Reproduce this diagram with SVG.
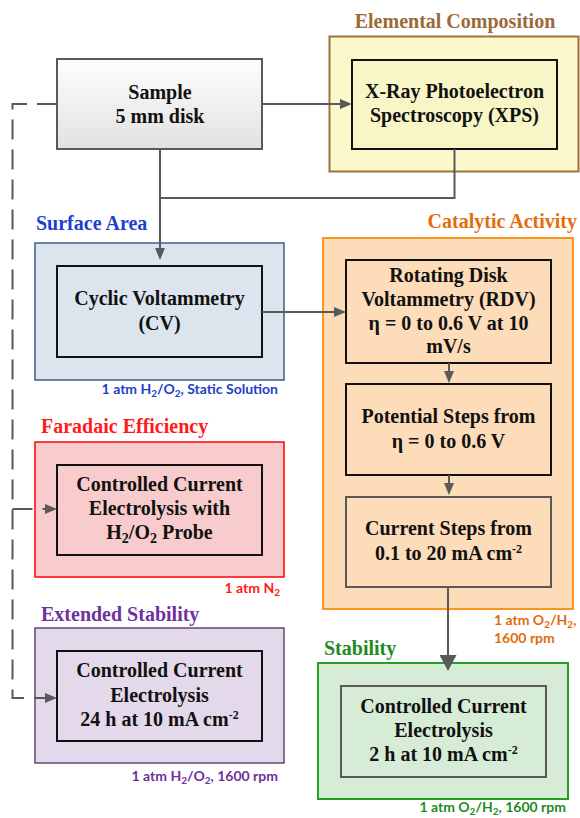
<svg xmlns="http://www.w3.org/2000/svg" width="580" height="818" viewBox="0 0 580 818">
<defs>
<style>
.t{font-family:"Liberation Serif","Times New Roman",serif;font-weight:bold;font-size:20px;fill:#111;text-anchor:middle}
.lbl{font-family:"Liberation Serif","Times New Roman",serif;font-weight:bold;font-size:20px}
.sm{font-family:Lato,"Liberation Sans",Arial,sans-serif;font-weight:bold;font-size:14px}
.inner{stroke:#111;stroke-width:2}
.conn{stroke:#595959;stroke-width:2;fill:none}
.dash{stroke-dasharray:20 10}
</style>
<linearGradient id="gs" x1="0" y1="0" x2="0" y2="1">
<stop offset="0" stop-color="#fdfdfd"/>
<stop offset="1" stop-color="#e2e2e2"/>
</linearGradient>
<marker id="ah" viewBox="0 0 12 10" refX="10" refY="5" markerWidth="12" markerHeight="10" markerUnits="userSpaceOnUse" orient="auto">
<path d="M0,0 L12,5 L0,10 z" fill="#595959"/>
</marker>
<marker id="ahb" viewBox="0 0 16 17" refX="13" refY="8.5" markerWidth="16" markerHeight="17" markerUnits="userSpaceOnUse" orient="auto">
<path d="M0,0 L16,8.5 L0,17 z" fill="#595959"/>
</marker>
</defs>
<rect width="580" height="818" fill="#ffffff"/>

<g id="elemental">
<text class="lbl" x="455" y="28" text-anchor="middle" fill="#9b6a36">Elemental Composition</text>
<rect x="329.5" y="36.5" width="249" height="135" fill="#fbf8cc" stroke="#a0703c" stroke-width="2"/>
<rect class="inner" x="352" y="60" width="205" height="89" fill="#f8f6c6"/>
<text class="t" x="454.5" y="98">X-Ray Photoelectron</text>
<text class="t" x="454.5" y="122">Spectroscopy (XPS)</text>
</g>

<g id="sample">
<rect x="57" y="59" width="205" height="90" fill="url(#gs)" stroke="#595959" stroke-width="2"/>
<text class="t" x="160" y="99">Sample</text>
<text class="t" x="160" y="123">5 mm disk</text>
</g>

<g id="surface">
<text class="lbl" x="36" y="230" fill="#1f3fcf">Surface Area</text>
<rect x="35" y="243" width="249" height="137" fill="#dce5ee" stroke="#3a5f8a" stroke-width="1.5"/>
<rect class="inner" x="57" y="266" width="205" height="91" fill="#dce5ee"/>
<text class="t" x="159.5" y="305">Cyclic Voltammetry</text>
<text class="t" x="159.5" y="330">(CV)</text>
<text class="sm" x="278" y="394" text-anchor="end" fill="#2040c8">1 atm H<tspan baseline-shift="-3" font-size="10">2</tspan>/O<tspan baseline-shift="-3" font-size="10">2</tspan>, Static Solution</text>
</g>

<g id="catalytic">
<text class="lbl" x="577" y="228" text-anchor="end" fill="#e46c0a">Catalytic Activity</text>
<rect x="323" y="238" width="250" height="371" fill="#fddcb9" stroke="#f7961e" stroke-width="2"/>
<rect class="inner" x="346" y="260" width="205" height="103" fill="#fddcb9"/>
<text class="t" x="448.5" y="282">Rotating Disk</text>
<text class="t" x="448.5" y="306">Voltammetry (RDV)</text>
<text class="t" x="448.5" y="330">η = 0 to 0.6 V at 10</text>
<text class="t" x="448.5" y="353">mV/s</text>
<rect class="inner" x="346" y="384" width="205" height="91" fill="#fddcb9"/>
<text class="t" x="448.5" y="423">Potential Steps from</text>
<text class="t" x="448.5" y="448">η = 0 to 0.6 V</text>
<rect x="346" y="497" width="205" height="90" fill="#fddcb9" stroke="#595959" stroke-width="2"/>
<text class="t" x="448.5" y="535">Current Steps from</text>
<text class="t" x="448.5" y="560">0.1 to 20 mA cm<tspan baseline-shift="super" font-size="12">-2</tspan></text>
<text class="sm" x="494" y="625" fill="#e26b0a">1 atm O<tspan baseline-shift="-3" font-size="10">2</tspan>/H<tspan baseline-shift="-3" font-size="10">2</tspan>,</text>
<text class="sm" x="494" y="643" fill="#e26b0a">1600 rpm</text>
</g>

<g id="faradaic">
<text class="lbl" x="41" y="433" fill="#ff1a1a">Faradaic Efficiency</text>
<rect x="35" y="442" width="249" height="135" fill="#f8cccc" stroke="#ff0000" stroke-width="1.5"/>
<rect class="inner" x="57" y="465" width="205" height="90" fill="#f8cccc"/>
<text class="t" x="159.5" y="491">Controlled Current</text>
<text class="t" x="159.5" y="515">Electrolysis with</text>
<text class="t" x="159.5" y="539">H<tspan baseline-shift="-4" font-size="14">2</tspan>/O<tspan baseline-shift="-4" font-size="14">2</tspan> Probe</text>
<text class="sm" x="280" y="593" text-anchor="end" fill="#ff1a1a">1 atm N<tspan baseline-shift="-3" font-size="10">2</tspan></text>
</g>

<g id="extended">
<text class="lbl" x="41" y="621" fill="#7030a0">Extended Stability</text>
<rect x="35" y="628" width="249" height="135" fill="#e4d9ea" stroke="#5f4a78" stroke-width="1.5"/>
<rect class="inner" x="57" y="651" width="205" height="90" fill="#e4d9ea"/>
<text class="t" x="159.5" y="677">Controlled Current</text>
<text class="t" x="159.5" y="702">Electrolysis</text>
<text class="t" x="159.5" y="726">24 h at 10 mA cm<tspan baseline-shift="super" font-size="12">-2</tspan></text>
<text class="sm" x="278" y="781" text-anchor="end" fill="#7030a0">1 atm H<tspan baseline-shift="-3" font-size="10">2</tspan>/O<tspan baseline-shift="-3" font-size="10">2</tspan>, 1600 rpm</text>
</g>

<g id="stability">
<text class="lbl" x="324" y="655" fill="#1f8a1f">Stability</text>
<rect x="318" y="663" width="250" height="136" fill="#d6ecd6" stroke="#22a022" stroke-width="2"/>
<rect x="341" y="686" width="205" height="91" fill="#d6ecd6" stroke="#595959" stroke-width="2"/>
<text class="t" x="443.5" y="713">Controlled Current</text>
<text class="t" x="443.5" y="737">Electrolysis</text>
<text class="t" x="443.5" y="761">2 h at 10 mA cm<tspan baseline-shift="super" font-size="12">-2</tspan></text>
<text class="sm" x="566" y="812" text-anchor="end" fill="#1f8a1f">1 atm O<tspan baseline-shift="-3" font-size="10">2</tspan>/H<tspan baseline-shift="-3" font-size="10">2</tspan>, 1600 rpm</text>
</g>

<g id="connectors">
<path class="conn" d="M262,104 H350" marker-end="url(#ah)"/>
<path class="conn" d="M160,149 V258" marker-end="url(#ah)"/>
<path class="conn" d="M454.5,149 V198 H160"/>
<path class="conn" d="M262,312 H344" marker-end="url(#ah)"/>
<path class="conn" d="M449,363 V381" marker-end="url(#ah)"/>
<path class="conn" d="M449,475 V493" marker-end="url(#ah)"/>
<path class="conn" d="M448,587 V668" stroke-width="3" marker-end="url(#ahb)"/>
<path class="conn dash" d="M57,104 H12.5 V698 H55" marker-end="url(#ah)"/>
<path class="conn dash" d="M12.5,509 H55" marker-end="url(#ah)"/>
</g>
</svg>
